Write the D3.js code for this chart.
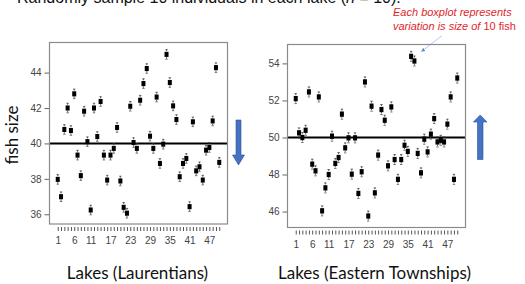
<!DOCTYPE html>
<html>
<head>
<meta charset="utf-8">
<script src="https://cdn.jsdelivr.net/npm/d3@7"></script>
<style>
  body { margin: 0; background: #fff; }
  svg { display: block; }
  .tick text { fill: #444; }
</style>
</head>
<body>
<div class="main"></div>
<script>
const w = 525, h = 284;

// lakes 1..50 and the labelled ones
const lakes = d3.range(1, 51);
const tickLabels = [1, 6, 11, 17, 23, 29, 35, 41, 47];

// median fish size per lake
const laurentians = [
  37.97, 36.99, 40.79, 42.0, 40.73, 42.8, 39.34, 38.18, 41.82, 40.1,
  36.24, 42.0, 40.39, 42.37, 39.34, 37.93, 39.34, 39.72, 40.9, 37.88,
  36.39, 36.06, 42.1, 40.05, 39.72, 42.44, 43.38, 44.23, 40.41, 39.72,
  42.62, 38.87, 39.96, 45.03, 43.44, 42.12, 41.35, 38.12, 38.87, 39.15,
  36.43, 41.22, 38.45, 38.68, 37.93, 39.62, 39.77, 41.27, 44.28, 38.93
];
const easternTownships = [
  52.1, 50.25, 50.0, 50.39, 52.46, 48.56, 48.2, 52.19, 46.04, 47.28,
  48.0, 50.07, 48.6, 48.92, 51.26, 49.44, 49.98, 48.02, 49.98, 46.98,
  48.15, 53.0, 45.76, 51.69, 47.01, 49.05, 51.51, 50.93, 48.47, 51.65,
  48.81, 47.74, 48.81, 49.58, 49.25, 54.38, 54.13, 49.14, 48.09, 49.91,
  49.22, 50.18, 51.02, 49.76, 49.85, 49.76, 50.72, 52.19, 47.74, 53.21
];

// whisker and box half-heights (same for every lake)
const whisker = 0.27, halfBox = 0.11;

const svg = d3.select('.main')
  .append('svg')
  .attr('width', w)
  .attr('height', h)
  .style('font-family', 'Liberation Sans, Arial, sans-serif');

// title, mostly cut off at the top (as in the slide)
const title = svg.append('text')
  .attr('x', 17)
  .attr('y', 3)
  .style('font-size', '16px')
  .attr('fill', '#111');
title.append('tspan').text('Randomly sample 10 individuals in each lake (');
title.append('tspan').style('font-style', 'italic').text('n');
title.append('tspan').text(' = 10).');

function panel(opts) {
  const x = d3.scaleLinear().domain([-1.5, 52.5]).range([opts.left, opts.right]);
  const y = d3.scaleLinear().domain(opts.yDomain).range([opts.bottom, opts.top]);
  const g = svg.append('g');

  // y axis
  const ya = g.append('g')
    .attr('transform', `translate(${opts.left},0)`)
    .call(d3.axisLeft(y).tickValues(opts.yTicks).tickSize(5).tickPadding(3));
  ya.select('.domain').remove();
  ya.selectAll('line').attr('stroke', '#666');
  ya.selectAll('text').style('font-size', '10px');

  // x axis, a tick for every lake
  const xa = g.append('g')
    .attr('transform', `translate(0,${opts.bottom + 3})`)
    .call(d3.axisBottom(x).tickValues(lakes).tickSize(4).tickPadding(6)
      .tickFormat(d => tickLabels.includes(d) ? d : ''));
  xa.select('.domain').remove();
  xa.selectAll('line').attr('stroke', '#555');
  xa.selectAll('text').style('font-size', '10px');

  // reference line
  g.append('line')
    .attr('x1', opts.left).attr('x2', opts.right)
    .attr('y1', y(opts.ref)).attr('y2', y(opts.ref))
    .attr('stroke', '#000').attr('stroke-width', 2);

  const pts = g.selectAll('.lake')
    .data(opts.values)
    .enter()
    .append('g')
    .attr('class', 'lake');
  pts.append('line')
    .attr('x1', (d, i) => x(lakes[i])).attr('x2', (d, i) => x(lakes[i]))
    .attr('y1', d => y(d + whisker)).attr('y2', d => y(d - whisker))
    .attr('stroke', '#333').attr('stroke-width', 0.8)
    .attr('stroke-dasharray', '1.5,1');
  [whisker, -whisker].forEach(s => {
    pts.append('line')
      .attr('x1', (d, i) => x(lakes[i]) - 1.2).attr('x2', (d, i) => x(lakes[i]) + 1.2)
      .attr('y1', d => y(d + s)).attr('y2', d => y(d + s))
      .attr('stroke', '#333').attr('stroke-width', 0.7);
  });
  pts.append('rect')
    .attr('x', (d, i) => x(lakes[i]) - 2)
    .attr('y', d => y(d + halfBox) - 0.6)
    .attr('width', 4)
    .attr('height', d => y(d - halfBox) - y(d + halfBox) + 1.2)
    .attr('fill', '#000');

  // frame
  g.append('rect')
    .attr('x', opts.left).attr('y', opts.top)
    .attr('width', opts.right - opts.left).attr('height', opts.bottom - opts.top)
    .attr('fill', 'none').attr('stroke', '#8a8a8a').attr('stroke-width', 1.2);

  // axis title
  g.append('text')
    .attr('x', (x(1) + x(50)) / 2 + opts.labelShift)
    .attr('y', 279)
    .attr('text-anchor', 'middle')
    .style('font-family', 'Lato, sans-serif')
    .style('font-size', '17px')
    .attr('fill', '#111')
    .text(opts.xLabel);
}

panel({
  left: 49.5, right: 227.5, top: 42.5, bottom: 224,
  yDomain: [35.45, 45.7], yTicks: [36, 38, 40, 42, 44], ref: 40,
  values: laurentians, xLabel: 'Lakes (Laurentians)', labelShift: -1
});
panel({
  left: 287.5, right: 465.5, top: 44.5, bottom: 227.5,
  yDomain: [45.14, 55.02], yTicks: [46, 48, 50, 52, 54], ref: 50,
  values: easternTownships, xLabel: 'Lakes (Eastern Townships)', labelShift: -2
});

// y label
svg.append('text')
  .attr('transform', 'translate(18,135) rotate(-90)')
  .attr('text-anchor', 'middle')
  .style('font-family', 'Lato, sans-serif')
  .style('font-size', '17px')
  .attr('fill', '#111')
  .text('fish size');

// big blue arrows: down (left panel), up (right panel)
const blue = '#4472c4';
svg.append('path')
  .attr('d', 'M236,120 H241 V155 H244.5 L238.5,165 L232.5,155 H236 Z')
  .attr('fill', blue).attr('stroke', '#2f528f').attr('stroke-width', 0.6);
svg.append('path')
  .attr('d', 'M477.5,159.5 H483 V122 H487 L480.2,115 L473.4,122 H477.5 Z')
  .attr('fill', blue).attr('stroke', '#2f528f').attr('stroke-width', 0.6);

// red note
const note = svg.append('g')
  .attr('fill', '#e0262b')
  .style('font-size', '11px');
note.append('text')
  .attr('x', 393).attr('y', 16)
  .style('font-style', 'italic')
  .text('Each boxplot represents');
const n2 = note.append('text').attr('x', 393).attr('y', 29.5);
n2.append('tspan').style('font-style', 'italic').text('variation is size of ');
n2.append('tspan').text('10 fish');

// thin pointer arrow
svg.append('defs').append('marker')
  .attr('id', 'head')
  .attr('viewBox', '0 0 10 10')
  .attr('refX', 9).attr('refY', 5)
  .attr('markerWidth', 5).attr('markerHeight', 5)
  .attr('orient', 'auto')
  .append('path')
  .attr('d', 'M0,0 L10,5 L0,10 Z')
  .attr('fill', '#5b8bd6');
svg.append('line')
  .attr('x1', 441.5).attr('y1', 36)
  .attr('x2', 421.5).attr('y2', 51.5)
  .attr('stroke', '#5b8bd6').attr('stroke-width', 0.8)
  .attr('stroke-dasharray', '1.5,1')
  .attr('marker-end', 'url(#head)');
</script>
</body>
</html>
